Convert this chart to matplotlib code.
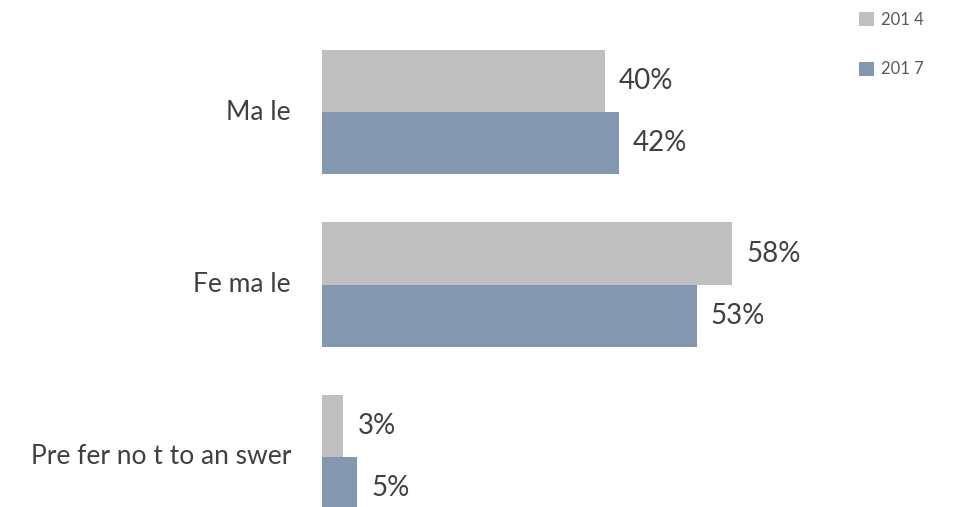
import matplotlib.pyplot as plt
import numpy as np

categories = ["Ma le", "Fe ma le", "Pre fer no t to an swer"]
years = ["201 4", "201 7"]
values_2014 = [40, 58, 3]
values_2017 = [42, 53, 5]

colors = ["#BFBFBF", "#8497B0"]
text_color = "#404040"

plt.rcParams["font.family"] = ["Lato", "DejaVu Sans"]

fig = plt.figure(figsize=(9.64, 5.07), dpi=100)
ax = fig.add_axes([322 / 964, 0, 1 - 322 / 964, 1])

y = np.arange(len(categories))
h = 0.36
bars_a = ax.barh(y - h / 2, values_2014, height=h, color=colors[0], label=years[0])
bars_b = ax.barh(y + h / 2, values_2017, height=h, color=colors[1], label=years[1])

ax.set_xlim(0, 90.8)
ax.set_ylim(2.29, -0.65)
ax.axis("off")

# value labels just past each bar end
for bars, vals in [(bars_a, values_2014), (bars_b, values_2017)]:
    for b, v in zip(bars, vals):
        ax.text(v + 2.0, b.get_y() + b.get_height() / 2, f"{v}%",
                va="center", ha="left", fontsize=20, color=text_color)

# category labels to the left of the bars
for yi, cat in zip(y, categories):
    ax.text(-4.4, yi, cat, ha="right", va="center", fontsize=19,
            color=text_color, clip_on=False)

fig.legend(loc="upper left", bbox_to_anchor=(844 / 964, 1 + 3 / 507),
           frameon=False, fontsize=12, handlelength=0.9, handleheight=0.9,
           handletextpad=0.4, labelspacing=2.0, labelcolor="#595959")

fig.savefig("out.png", dpi=100)
